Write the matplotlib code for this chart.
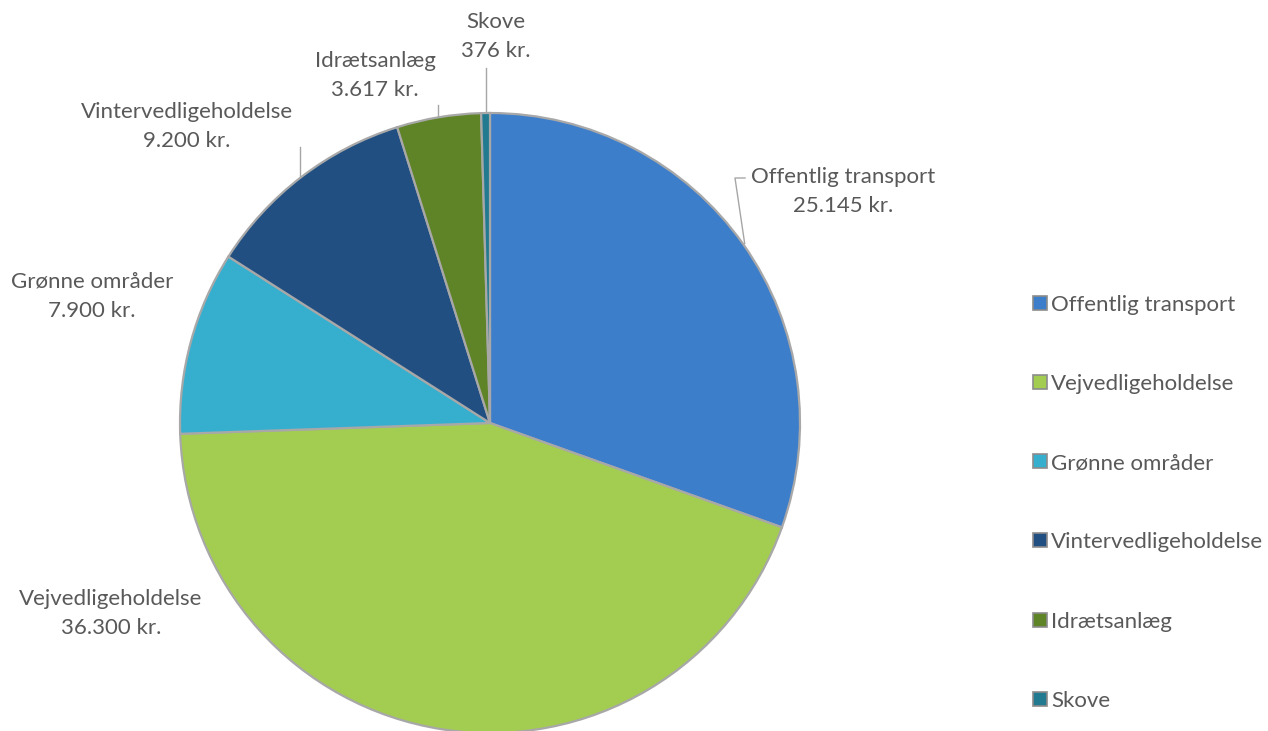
import numpy as np
import matplotlib
matplotlib.use('Agg')
import matplotlib.pyplot as plt
from matplotlib.patches import Rectangle

# data
categories = ['Offentlig transport', 'Vejvedligeholdelse', 'Grønne områder',
              'Vintervedligeholdelse', 'Idrætsanlæg', 'Skove']
values = [25145, 36300, 7900, 9200, 3617, 376]
value_labels = ['25.145 kr.', '36.300 kr.', '7.900 kr.', '9.200 kr.', '3.617 kr.', '376 kr.']
colors = ['#3d7ecb', '#a3cd50', '#36afcf', '#214f82', '#5f8428', '#217a90']

plt.rcParams['font.family'] = ['Lato', 'DejaVu Sans']

W, H = 1268, 731
fig = plt.figure(figsize=(W / 100, H / 100), dpi=100)

# pie centre (490, 423) px, radius 310 px
cx, cy, r = 490, 423, 310
ax = fig.add_axes([(cx - r) / W, (H - cy - r) / H, 2 * r / W, 2 * r / H])

wedges, _ = ax.pie(values, colors=colors, startangle=90, counterclock=False,
                   radius=1.0, center=(0, 0),
                   wedgeprops=dict(edgecolor='#a8a8a8', linewidth=1.6))
for w in wedges:
    w.set_clip_on(False)
ax.set_xlim(-1, 1)
ax.set_ylim(-1, 1)
ax.set_aspect('equal')
ax.axis('off')

def px(x, y):
    return (x - cx) / r, (cy - y) / r

FS = 16
TXT = '#595959'
line_kw = dict(color='#a6a6a6', lw=1.0, clip_on=False)

# label centre x and first-line baseline (px), leader tops (px or None)
label_pos = [(843, 183), (111, 605), (92, 288), (187, 118), (375, 67), (496, 28)]
leader_top = [178, None, None, 147, 105, 68]
line_gap = 29

for w, cat, vl, (lx, ly), top in zip(wedges, categories, value_labels, label_pos, leader_top):
    ang = np.deg2rad((w.theta1 + w.theta2) / 2)
    for k, s in enumerate([cat, vl]):
        tx, ty = px(lx, ly + k * line_gap)
        ax.text(tx, ty, s, ha='center', va='baseline', fontsize=FS, color=TXT,
                clip_on=False)
    if top is None:
        continue
    x0, y0 = np.cos(ang) * 1.005, np.sin(ang) * 1.005
    _, ytop = px(0, top)
    if cat == 'Offentlig transport':
        ex, _ = px(735, 0)
        hx, _ = px(745, 0)
        ax.plot([x0, ex, hx], [y0, ytop, ytop], **line_kw)
    else:
        ax.plot([x0, x0], [y0, ytop], **line_kw)

# legend
leg_base = [311, 390, 469, 548, 628, 707]
for col, cat, lb in zip(colors, categories, leg_base):
    fig.patches.append(Rectangle((1033 / W, (H - lb + 1) / H), 14 / W, 14 / H,
                                 transform=fig.transFigure, facecolor=col,
                                 edgecolor='#8c8c8c', linewidth=1.2))
    fig.text(1051 / W, (H - lb) / H, cat, ha='left', va='baseline',
             fontsize=FS, color=TXT)

plt.savefig('out.png', dpi=100)
plt.close(fig)
